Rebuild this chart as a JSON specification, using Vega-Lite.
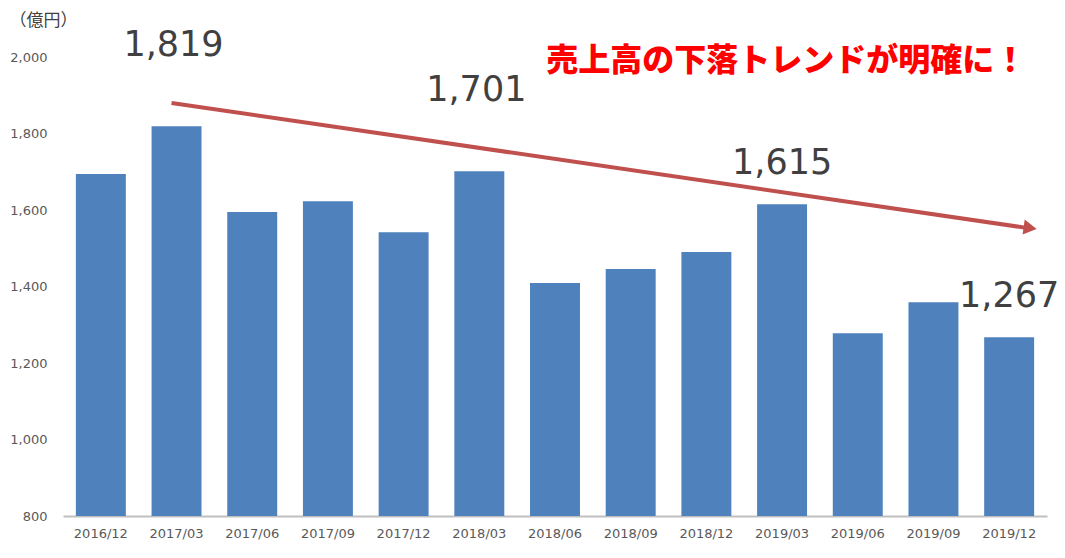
{
  "$schema": "https://vega.github.io/schema/vega-lite/v6.json",
  "width": 984,
  "height": 459,
  "autosize": {"type": "none"},
  "padding": {"left": 63, "top": 57, "right": 18, "bottom": 42},
  "background": "white",
  "config": {"view": {"stroke": null}},
  "datasets": {
    "sales": [
      {"period": "2016/12", "value": 1694},
      {"period": "2017/03", "value": 1819},
      {"period": "2017/06", "value": 1595},
      {"period": "2017/09", "value": 1623},
      {"period": "2017/12", "value": 1542},
      {"period": "2018/03", "value": 1701},
      {"period": "2018/06", "value": 1409},
      {"period": "2018/09", "value": 1446},
      {"period": "2018/12", "value": 1490},
      {"period": "2019/03", "value": 1615},
      {"period": "2019/06", "value": 1278},
      {"period": "2019/09", "value": 1359},
      {"period": "2019/12", "value": 1267}
    ],
    "labels_high": [
      {"period": "2017/03", "value": 1819},
      {"period": "2018/03", "value": 1701}
    ],
    "labels_low": [
      {"period": "2019/03", "value": 1615},
      {"period": "2019/12", "value": 1267}
    ],
    "arrow": [{"from": "2017/03", "to": "2019/12", "ystart": 1880, "yend": 1553}],
    "headline": [{"period": "2019/12", "y": 1990, "text": "売上高の下落トレンドが明確に！"}]
  },
  "layer": [
    {
      "data": {"name": "sales"},
      "mark": {"type": "bar", "color": "#4f81bd"},
      "encoding": {
        "x": {
          "field": "period", "type": "nominal", "sort": null,
          "scale": {"paddingInner": 0.34, "paddingOuter": 0.17},
          "axis": {
            "title": null, "labelAngle": 0, "ticks": false,
            "labelFont": "DejaVu Sans", "labelFontSize": 13, "labelColor": "#595959",
            "labelPadding": 11, "domainColor": "#bfbfbf", "domainWidth": 2
          }
        },
        "y": {
          "field": "value", "type": "quantitative",
          "scale": {"domain": [800, 2000], "zero": false, "nice": false},
          "axis": {
            "values": [800, 1000, 1200, 1400, 1600, 1800, 2000],
            "format": ",d", "grid": false, "domain": false, "ticks": false,
            "labelFont": "DejaVu Sans", "labelFontSize": 13, "labelColor": "#595959",
            "labelPadding": 16,
            "title": "（億円）", "titleAngle": 0, "titleAlign": "left", "titleBaseline": "middle",
            "titleX": -54, "titleY": -37, "titleFont": "Noto Sans CJK JP",
            "titleFontSize": 17, "titleFontWeight": "normal", "titleColor": "#404040"
          }
        },
        "y2": {"datum": 800}
      }
    },
    {
      "data": {"name": "arrow"},
      "mark": {"type": "rule", "color": "#c0504d", "strokeWidth": 4, "xOffset": -5, "x2Offset": 18},
      "encoding": {
        "x": {"field": "from", "type": "nominal", "sort": null},
        "x2": {"field": "to"},
        "y": {"field": "ystart", "type": "quantitative"},
        "y2": {"field": "yend"}
      }
    },
    {
      "data": {"name": "arrow"},
      "mark": {"type": "point", "shape": "triangle-right", "filled": true, "opacity": 1, "color": "#c0504d", "size": 230, "angle": 8, "xOffset": 21},
      "encoding": {
        "x": {"field": "to", "type": "nominal", "sort": null},
        "y": {"field": "yend", "type": "quantitative"}
      }
    },
    {
      "data": {"name": "labels_high"},
      "mark": {"type": "text", "dy": -81, "dx": -3, "font": "DejaVu Sans", "fontSize": 35, "color": "#404040", "baseline": "middle", "align": "center"},
      "encoding": {
        "x": {"field": "period", "type": "nominal", "sort": null},
        "y": {"field": "value", "type": "quantitative"},
        "text": {"field": "value", "type": "quantitative", "format": ",d"}
      }
    },
    {
      "data": {"name": "labels_low"},
      "mark": {"type": "text", "dy": -41, "font": "DejaVu Sans", "fontSize": 35, "color": "#404040", "baseline": "middle", "align": "center"},
      "encoding": {
        "x": {"field": "period", "type": "nominal", "sort": null},
        "y": {"field": "value", "type": "quantitative"},
        "text": {"field": "value", "type": "quantitative", "format": ",d"}
      }
    },
    {
      "data": {"name": "headline"},
      "mark": {"type": "text", "dx": 17, "font": "Noto Sans CJK JP", "fontWeight": 900, "fontSize": 32, "color": "#ff0000", "baseline": "middle", "align": "right"},
      "encoding": {
        "x": {"field": "period", "type": "nominal", "sort": null},
        "y": {"field": "y", "type": "quantitative"},
        "text": {"field": "text", "type": "nominal"}
      }
    }
  ]
}
